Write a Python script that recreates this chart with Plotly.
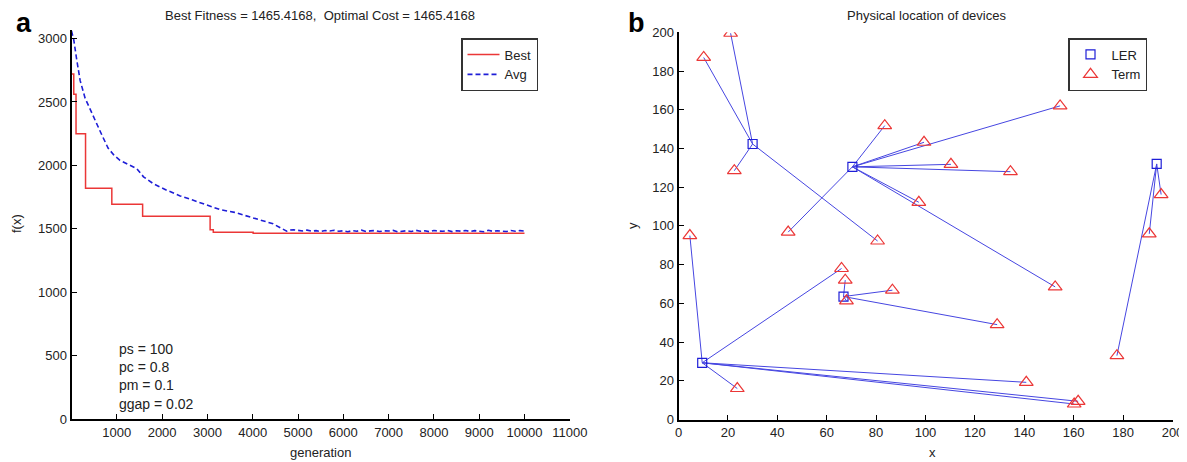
import plotly.graph_objects as go

# ---------------- Panel a data ----------------
best_gen = [0, 50, 100, 310, 890, 1570, 3060, 3130, 4010, 10000]
best_val = [2720, 2560, 2250, 1820, 1695, 1600, 1493, 1474, 1465.4168, 1465.4168]

avg_gen_head = [0, 50, 110, 190, 300, 450, 560, 670, 810, 940, 1070, 1290, 1440, 1590,
                1810, 2100, 2400, 2690, 2980, 3280, 3600, 3900, 4100, 4450, 4750, 4800, 4900]
avg_val_head = [3060, 2990, 2845, 2670, 2530, 2410, 2320, 2240, 2135, 2080, 2040, 2000, 1975, 1910,
                1855, 1805, 1760, 1725, 1688, 1652, 1630, 1600, 1580, 1540, 1482, 1490, 1493]
avg_gen_tail = list(range(5000, 10001, 100))
avg_val_tail = [1488, 1484, 1490, 1482, 1486, 1479, 1487, 1483, 1489, 1481,
                1485, 1478, 1486, 1482, 1490, 1480, 1484, 1487, 1479, 1485,
                1483, 1488, 1477, 1484, 1486, 1480, 1489, 1482, 1485, 1478,
                1487, 1483, 1481, 1488, 1479, 1485, 1482, 1487, 1480, 1486,
                1483, 1478, 1489, 1481, 1485, 1484, 1479, 1487, 1482, 1486, 1483]
avg_gen = avg_gen_head + avg_gen_tail
avg_val = avg_val_head + avg_val_tail

params_text = ["ps = 100", "pc = 0.8", "pm = 0.1", "ggap = 0.02"]
gen_ticks = [1000, 2000, 3000, 4000, 5000, 6000, 7000, 8000, 9000, 10000, 11000]
fx_ticks = [0, 500, 1000, 1500, 2000, 2500, 3000]

# ---------------- Panel b data ----------------
ler_x = [30, 70.4, 193.6, 66.8, 9.6]
ler_y = [142.3, 130.5, 132, 63.5, 29.3]
term_x = [10.2, 21.1, 22.6, 80.6, 83.5, 99.4, 154.5, 110.3, 134.4, 97.3, 152.5, 44.4,
          195.4, 190.6, 177.5, 67.5, 68, 86.6, 129, 4.6, 66, 23.8, 140.8, 161.8, 160.2]
term_y = [187, 199.5, 128.5, 92.2, 151.8, 143.2, 162, 131.8, 128, 112.2, 68.5, 96.8,
          116.2, 95.9, 33, 72, 61.3, 66.8, 49, 95, 78, 16, 19.2, 9.4, 8]
term_ler = [0, 0, 0, 0, 1, 1, 1, 1, 1, 1, 1, 1, 2, 2, 2, 3, 3, 3, 3, 4, 4, 4, 4, 4, 4]
loc_ticks = [0, 20, 40, 60, 80, 100, 120, 140, 160, 180, 200]

RED = "rgb(235,55,55)"
BLUE = "rgb(30,30,215)"
LINKBLUE = "rgb(70,70,225)"
FONT = "Arial, Liberation Sans, sans-serif"
TXT = "#222222"

# the page body adds an 8px offset; size the figure so it fits the 1187x462 window
OFF = 8
W, H = 1187 - OFF, 462 - OFF


def px(X):
    return (X - OFF) / W


def py(Y):
    return 1 - (Y - OFF) / H


fig = go.Figure()

# panel a
fig.add_trace(go.Scatter(x=best_gen, y=best_val, mode="lines", name="Best",
                         line=dict(color=RED, width=1.5, shape="hv"),
                         xaxis="x", yaxis="y", legend="legend"))
fig.add_trace(go.Scatter(x=avg_gen, y=avg_val, mode="lines", name="Avg",
                         line=dict(color=BLUE, width=1.6, dash="5px,3px"),
                         xaxis="x", yaxis="y", legend="legend"))

# panel b links
lx, ly = [], []
for tx, ty, k in zip(term_x, term_y, term_ler):
    lx += [ler_x[k], tx, None]
    ly += [ler_y[k], ty, None]
fig.add_trace(go.Scatter(x=lx, y=ly, mode="lines", line=dict(color=LINKBLUE, width=1),
                         showlegend=False, xaxis="x2", yaxis="y2", hoverinfo="skip"))
fig.add_trace(go.Scatter(x=ler_x, y=ler_y, mode="markers", name="LER",
                         marker=dict(symbol="square-open", size=9, color=BLUE, line=dict(width=1.2)),
                         xaxis="x2", yaxis="y2", legend="legend2"))
fig.add_trace(go.Scatter(x=term_x, y=term_y, mode="markers", name="Term",
                         marker=dict(symbol="triangle-up-open", size=12, color=RED, line=dict(width=1.2)),
                         xaxis="x2", yaxis="y2", legend="legend2"))

axis_common = dict(showline=True, linecolor="black", linewidth=2, ticks="inside", ticklen=5,
                   tickwidth=1, tickcolor="black", showgrid=False, zeroline=False,
                   tickfont=dict(family=FONT, size=13, color=TXT), mirror=False,
                   automargin=False, tickformat="d")

legend_common = dict(xanchor="left", yanchor="top", bgcolor="white",
                     bordercolor="#333", borderwidth=1.5,
                     font=dict(family=FONT, size=13, color=TXT),
                     tracegroupgap=0, itemwidth=32)

fig.update_layout(
    width=W, height=H, margin=dict(l=0, r=0, t=0, b=0, autoexpand=False),
    paper_bgcolor="white", plot_bgcolor="white",
    xaxis=dict(domain=[px(71.5), px(569.8)], range=[0, 11000], tickvals=gen_ticks,
               anchor="y", **axis_common),
    yaxis=dict(domain=[py(419.3), py(29.6)], range=[0, 3070], tickvals=fx_ticks,
               anchor="x", **axis_common),
    xaxis2=dict(domain=[px(678.5), px(1172.5)], range=[0, 200], tickvals=loc_ticks,
                anchor="y2", **axis_common),
    yaxis2=dict(domain=[py(419.5), py(32.3)], range=[0, 200], tickvals=loc_ticks,
                anchor="x2", **axis_common),
    legend=dict(x=px(461), y=py(38), **legend_common),
    legend2=dict(x=px(1068), y=py(38), **legend_common),
    showlegend=True,
)

ann = []
# panel letters
ann.append(dict(text="<b>a</b>", x=px(14), y=py(23), xref="paper", yref="paper",
                xanchor="left", yanchor="middle", showarrow=False,
                font=dict(family=FONT, size=27, color="black")))
ann.append(dict(text="<b>b</b>", x=px(626), y=py(23), xref="paper", yref="paper",
                xanchor="left", yanchor="middle", showarrow=False,
                font=dict(family=FONT, size=27, color="black")))
# titles
ann.append(dict(text="Best Fitness = 1465.4168,  Optimal Cost = 1465.4168", x=px(320), y=py(15),
                xref="paper", yref="paper", xanchor="center", yanchor="middle", showarrow=False,
                font=dict(family=FONT, size=13, color=TXT)))
ann.append(dict(text="Physical location of devices", x=px(926), y=py(15),
                xref="paper", yref="paper", xanchor="center", yanchor="middle", showarrow=False,
                font=dict(family=FONT, size=13, color=TXT)))
# axis titles
ann.append(dict(text="generation", x=px(320), y=py(452), xref="paper", yref="paper",
                xanchor="center", yanchor="middle", showarrow=False,
                font=dict(family=FONT, size=13, color=TXT)))
ann.append(dict(text="f(x)", x=px(17), y=py(224), xref="paper", yref="paper",
                xanchor="center", yanchor="middle", showarrow=False, textangle=-90,
                font=dict(family=FONT, size=13, color=TXT)))
ann.append(dict(text="x", x=px(932), y=py(452), xref="paper", yref="paper",
                xanchor="center", yanchor="middle", showarrow=False,
                font=dict(family=FONT, size=13, color=TXT)))
ann.append(dict(text="y", x=px(633), y=py(226), xref="paper", yref="paper",
                xanchor="center", yanchor="middle", showarrow=False, textangle=-90,
                font=dict(family=FONT, size=13, color=TXT)))
# GA parameters
ann.append(dict(text="<br>".join(params_text), x=1000, y=340, xref="x", yref="y",
                xanchor="left", yanchor="middle", align="left", showarrow=False,
                font=dict(family=FONT, size=14, color=TXT)))
fig.update_layout(annotations=ann)

fig.write_html("out.html")
